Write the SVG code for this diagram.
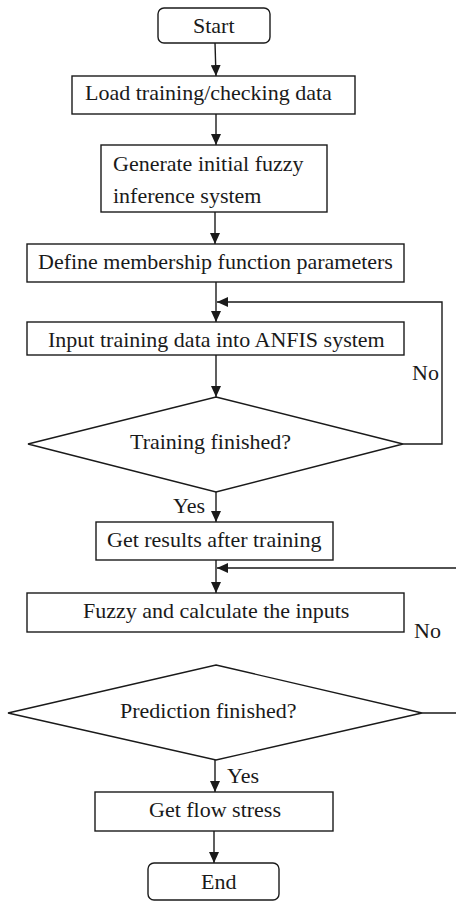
<svg xmlns="http://www.w3.org/2000/svg" width="456" height="901" viewBox="0 0 456 901">
<defs>
<style>
.box{fill:#fff;stroke:#1a1a1a;stroke-width:1.4}
.ln{fill:none;stroke:#1a1a1a;stroke-width:1.4;marker-end:url(#ah)}
.ln0{fill:none;stroke:#1a1a1a;stroke-width:1.4}
text{font-family:"Liberation Serif","Times New Roman",serif;font-size:22px;fill:#1a1a1a}
</style>
<marker id="ah" markerUnits="userSpaceOnUse" markerWidth="12" markerHeight="10" refX="11" refY="5" orient="auto">
<path d="M0,0 L11,5 L0,10 Z" fill="#1a1a1a"/>
</marker>
</defs>
<rect width="456" height="901" fill="#fff"/>
<g id="connectors">
<path class="ln" d="M215,43 L216,76"/>
<path class="ln" d="M216,114 L216,145"/>
<path class="ln" d="M215,212 L215,244"/>
<path class="ln" d="M216,282 L216,322"/>
<path class="ln" d="M216,355 L216,397"/>
<path class="ln" d="M403,444 L442,444 L442,302 L217,302"/>
<path class="ln" d="M216,492 L216,522"/>
<path class="ln" d="M216,560 L216,593"/>
<path class="ln" d="M422,713 L462,713 L462,568 L217,568"/>
<path class="ln" d="M215,760 L215,792"/>
<path class="ln" d="M214,831 L214,863"/>
</g>
<g id="start"><rect class="box" x="158" y="8" width="112" height="35" rx="6"/><text x="193" y="33">Start</text></g>
<g id="load"><rect class="box" x="72" y="76" width="283" height="38"/><text x="85" y="100">Load training/checking data</text></g>
<g id="generate"><rect class="box" x="101" y="145" width="226" height="67"/><text x="113" y="171">Generate initial fuzzy</text><text x="113" y="203">inference system</text></g>
<g id="define"><rect class="box" x="27" y="244" width="377" height="38"/><text x="38" y="269">Define membership function parameters</text></g>
<g id="input"><rect class="box" x="27" y="322" width="377" height="33"/><text x="48" y="347">Input training data into ANFIS system</text></g>
<g id="training"><polygon class="box" points="216,397 403,444 216,492 28,444"/><text x="130" y="449">Training finished?</text></g>
<g id="labels1"><text x="412" y="380">No</text><text x="173" y="513">Yes</text></g>
<g id="results"><rect class="box" x="96" y="522" width="237" height="38"/><text x="107" y="547">Get results after training</text></g>
<g id="fuzzy"><rect class="box" x="27" y="593" width="377" height="39"/><text x="83" y="618">Fuzzy and calculate the inputs</text></g>
<g id="labels2"><text x="414" y="638">No</text><text x="227" y="783">Yes</text></g>
<g id="prediction"><polygon class="box" points="216,665 422,713 216,760 8,713"/><text x="120" y="718">Prediction finished?</text></g>
<g id="flow"><rect class="box" x="95" y="792" width="238" height="39"/><text x="149" y="817">Get flow stress</text></g>
<g id="end"><rect class="box" x="148" y="863" width="131" height="37" rx="6"/><text x="201" y="889">End</text></g>
</svg>
